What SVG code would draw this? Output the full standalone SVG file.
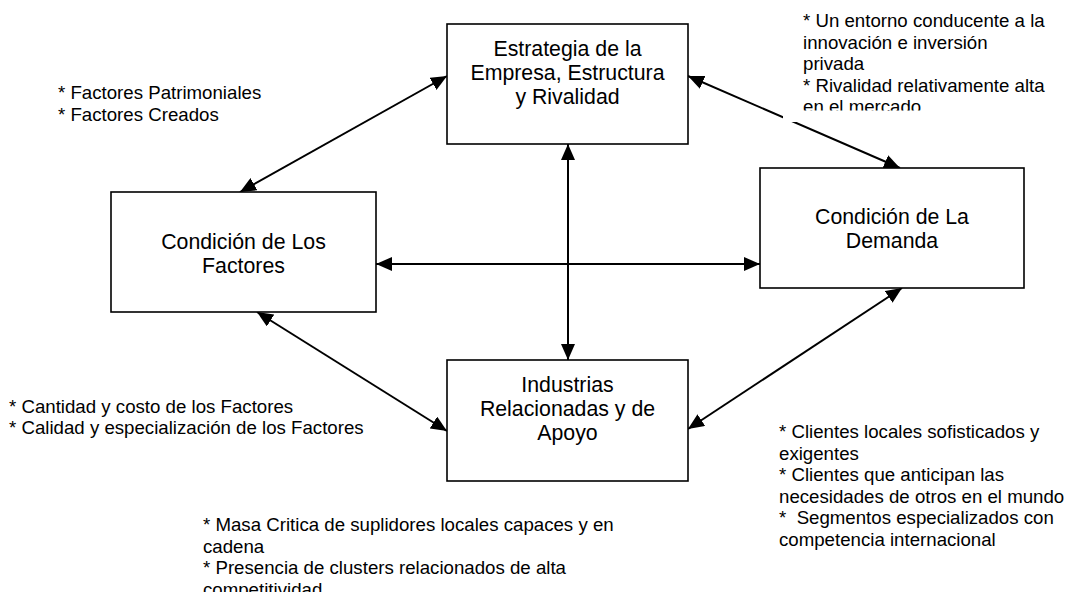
<svg xmlns="http://www.w3.org/2000/svg" width="1066" height="592" viewBox="0 0 1066 592">
  <style>
    .box { fill: #fff; stroke: #000; stroke-width: 1.6; }
    .label { font-family: "Liberation Sans", Arial, sans-serif; font-size: 21.3px; fill: #000; text-anchor: middle; }
    .note { font-family: "Liberation Sans", Arial, sans-serif; font-size: 18.67px; fill: #000; }
    .link { stroke: #000; stroke-width: 2; fill: none; marker-start: url(#head); marker-end: url(#head); }
  </style>
  <defs>
    <marker id="head" markerUnits="userSpaceOnUse" markerWidth="17" markerHeight="14" refX="16" refY="7" orient="auto-start-reverse">
      <path d="M0,0 L16,7 L0,14 z" fill="#000"/>
    </marker>
    <clipPath id="clipTopRight">
      <rect x="783" y="0" width="283" height="110.5"/>
    </clipPath>
  </defs>
  <rect width="1066" height="592" fill="#fff"/>

  <!-- connectors -->
  <g id="connectors">
    <line class="link" x1="447" y1="76" x2="240" y2="192"/>
    <line class="link" x1="688" y1="76" x2="900" y2="168"/>
    <line class="link" x1="568" y1="144" x2="568" y2="360"/>
    <line class="link" x1="376" y1="264" x2="760" y2="264"/>
    <line class="link" x1="257" y1="312" x2="447" y2="431"/>
    <line class="link" x1="688" y1="429" x2="902" y2="288"/>
  </g>

  <!-- nodes -->
  <g id="node-estrategia">
    <rect class="box" x="447" y="24" width="241" height="120"/>
    <text class="label" x="567.5" y="55.5">Estrategia de la</text>
    <text class="label" x="567.5" y="79.5">Empresa, Estructura</text>
    <text class="label" x="567.5" y="103.5">y Rivalidad</text>
  </g>
  <g id="node-factores">
    <rect class="box" x="111" y="192" width="265" height="120"/>
    <text class="label" x="243.5" y="248.5">Condición de Los</text>
    <text class="label" x="243.5" y="272.5">Factores</text>
  </g>
  <g id="node-demanda">
    <rect class="box" x="760" y="168" width="264" height="120"/>
    <text class="label" x="892" y="224">Condición de La</text>
    <text class="label" x="892" y="248">Demanda</text>
  </g>
  <g id="node-industrias">
    <rect class="box" x="447" y="360" width="241" height="121"/>
    <text class="label" x="567.5" y="392">Industrias</text>
    <text class="label" x="567.5" y="416">Relacionadas y de</text>
    <text class="label" x="567.5" y="440">Apoyo</text>
  </g>

  <!-- annotations -->
  <g id="note-factores">
    <text class="note" x="58" y="99">* Factores Patrimoniales</text>
    <text class="note" x="58" y="120.5">* Factores Creados</text>
  </g>
  <g id="note-estrategia">
    <rect x="783" y="0" width="262" height="122" fill="#fff"/>
    <g clip-path="url(#clipTopRight)">
      <text class="note" x="803" y="27">* Un entorno conducente a la</text>
      <text class="note" x="803" y="48.5">innovación e inversión</text>
      <text class="note" x="803" y="70">privada</text>
      <text class="note" x="803" y="91.5">* Rivalidad relativamente alta</text>
      <text class="note" x="803" y="113">en el mercado</text>
    </g>
  </g>
  <g id="note-costos">
    <text class="note" x="9" y="412.5">* Cantidad y costo de los Factores</text>
    <text class="note" x="9" y="434">* Calidad y especialización de los Factores</text>
  </g>
  <g id="note-clientes">
    <text class="note" x="779" y="438">* Clientes locales sofisticados y</text>
    <text class="note" x="779" y="459.5">exigentes</text>
    <text class="note" x="779" y="481">* Clientes que anticipan las</text>
    <text class="note" x="779" y="502.5">necesidades de otros en el mundo</text>
    <text class="note" x="779" y="524" xml:space="preserve">*  Segmentos especializados con</text>
    <text class="note" x="779" y="545.5">competencia internacional</text>
  </g>
  <g id="note-industrias">
    <text class="note" x="203" y="531">* Masa Critica de suplidores locales capaces y en</text>
    <text class="note" x="203" y="552.5">cadena</text>
    <text class="note" x="203" y="574">* Presencia de clusters relacionados de alta</text>
    <text class="note" x="203" y="595.5">competitividad</text>
  </g>
</svg>
